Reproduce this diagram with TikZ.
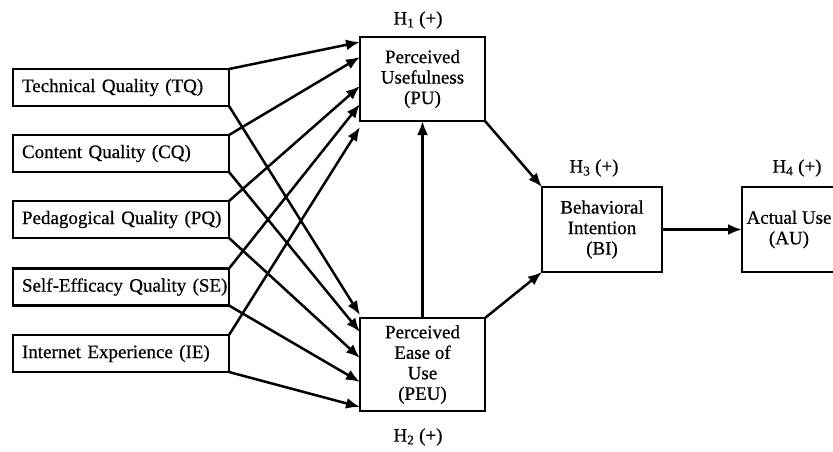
\documentclass[tikz,border=0pt]{standalone}
\usepackage{fontspec}
\setmainfont{Liberation Serif}
\newfontfamily\DiagFont[FakeBold=0.6]{Liberation Serif}
\usetikzlibrary{arrows.meta,calc}
\newcommand{\TxtSize}{\DiagFont\fontsize{19}{20.5}\selectfont}

\tikzset{
  factor/.style={draw,line width=2.7pt,outer sep=0pt,inner sep=0pt,
    minimum width=216pt,minimum height=37pt,text width=198pt,align=left,font=\TxtSize},
  construct/.style={draw,line width=2.7pt,outer sep=0pt,inner sep=0pt,
    align=center,font=\TxtSize},
  hyp/.style={inner sep=0pt,font=\TxtSize},
  link/.style={line width=2.5pt,-{Latex[length=14pt,width=11pt]}}
}

\begin{document}
\begin{tikzpicture}[x=1pt,y=-1pt]
\useasboundingbox (0,0) rectangle (833,451);

\node[factor] (tq) at (121,87.5) {Technical Quality (TQ)};
\node[factor] (cq) at (121,153.5) {Content Quality (CQ)};
\node[factor] (pq) at (121,219.5) {\mbox{Pedagogical Quality (PQ)}};
\node[factor] (se) at (121,287) {\mbox{Self-Efficacy Quality (SE)}};
\node[factor] (ie) at (121,353.5) {Internet Experience (IE)};

\node[construct,minimum width=125pt,minimum height=84pt] (pu) at (422.5,79) {Perceived\\Usefulness\\(PU)};
\node[construct,minimum width=125pt,minimum height=93pt] (peu) at (422.5,364.5) {Perceived\\Ease of\\Use\\(PEU)};
\node[construct,minimum width=120pt,minimum height=85pt] (bi) at (602,229.5) {Behavioral\\Intention\\(BI)};
\node[construct,minimum width=94pt,minimum height=85pt] (au) at (789,229.5) {Actual Use\\(AU)};

\node[hyp] (h1) at (418,20) {H\textsubscript{1} (+)};
\node[hyp] (h2) at (418,437) {H\textsubscript{2} (+)};
\node[hyp] (h3) at (594,168) {H\textsubscript{3} (+)};
\node[hyp] (h4) at (797,168) {H\textsubscript{4} (+)};

\draw[link] (tq.north east) -- ($(pu.north west)+(0,5)$);
\draw[link] (cq.north east) -- ($(pu.north west)+(0,20)$);
\draw[link] (pq.north east) -- ($(pu.north west)+(0,49)$);
\draw[link] (se.north east) -- ($(pu.north west)+(0,67)$);
\draw[link] (ie.north east) -- ($(pu.north west)+(0,90)$);

\draw[link] (tq.south east) -- ($(peu.north west)+(0,-3)$);
\draw[link] (cq.south east) -- ($(peu.north west)+(0,14)$);
\draw[link] (pq.south east) -- ($(peu.north west)+(0,40)$);
\draw[link] (se.south east) -- ($(peu.north west)+(0,64)$);
\draw[link] (ie.south east) -- ($(peu.north west)+(0,89)$);

\draw[link] (peu.north) -- (pu.south);
\draw[link] (pu.south east) -- (bi.north west);
\draw[link] (peu.north east) -- (bi.south west);
\draw[link] (bi.east) -- (au.west);

\end{tikzpicture}
\end{document}
